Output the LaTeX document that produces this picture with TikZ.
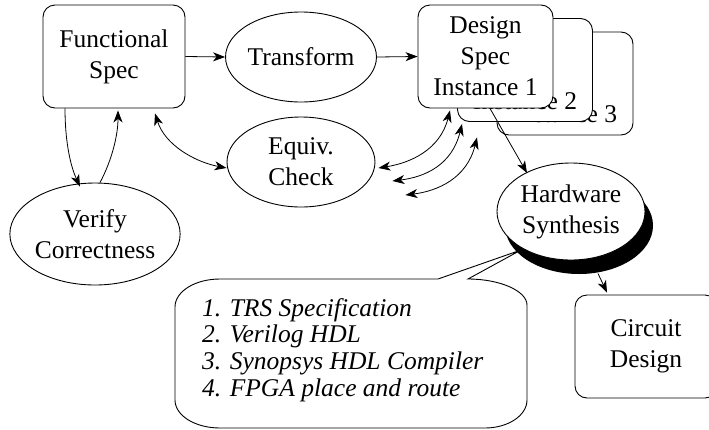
\documentclass[tikz,border=0pt]{standalone}
\usepackage{fontspec}
\setmainfont{Liberation Serif}
\usetikzlibrary{arrows.meta,calc,shapes.geometric}
\begin{document}
\begin{tikzpicture}[x=1pt,y=-1pt,
  every node/.style={font=\fontsize{25.5}{31}\selectfont, align=center, inner sep=0pt},
  box/.style={draw, rounded corners=12pt, fill=white, line width=0.9pt, minimum height=103pt, minimum width=#1},
  ell/.style={draw, ellipse, fill=white, line width=0.9pt},
  arr/.style={line width=0.8pt, -{Stealth[length=12pt,width=9pt,inset=3.5pt]}},
  darr/.style={line width=0.8pt, {Stealth[length=12pt,width=9pt,inset=3.5pt]}-{Stealth[length=12pt,width=9pt,inset=3.5pt]}}
]
\useasboundingbox (0,0) rectangle (709,429);

% nodes
\node[box=142pt] (fs) at (114,56.5) {Functional\\Spec};
\node[ell, minimum width=148pt, minimum height=90pt] (tr) at (301,57) {Transform};
\node[ell, minimum width=148pt, minimum height=90pt] (eq) at (301,162) {Equiv.\\Check};
\node[ell, minimum width=170pt, minimum height=102pt] (vc) at (95,234) {Verify\\Correctness};

\node[box=136pt] (ds3) at (565,83.5) {\vphantom{Design}\\\vphantom{Spec}\\Instance 3};
\node[box=135pt] (ds2) at (525,70) {\vphantom{Design}\\\vphantom{Spec}\\Instance 2};
\node[box=135pt] (ds1) at (485.5,56.5) {Design\\Spec\\Instance 1};

% shadow of hardware synthesis
\fill[black] (579,225.5) ellipse [x radius=74pt, y radius=48.5pt];
\node[ell, minimum width=148pt, minimum height=97pt] (hw) at (571,211.5) {Hardware\\Synthesis};

\node[box=142pt] (cd) at (646,346.5) {Circuit\\Design};

% callout
\coordinate (tip) at ($(hw.center)+(-50,38.5)$);
\draw[line width=0.9pt, fill=white] (438,279) -- (220,279)
  .. controls (195,279) and (175,291.5) .. (175,307) -- (175,400)
  .. controls (175,415.5) and (195,428) .. (220,428) -- (485,428)
  .. controls (508,428) and (527,415.5) .. (527,400) -- (527,305)
  .. controls (527,291) and (500,279) .. (468,279) -- (tip) -- cycle;
\node[anchor=west, align=left, font=\fontsize{25.5}{26.7}\selectfont\itshape] (co) at (202,350)
  {1. TRS Specification\\2. Verilog HDL\\3. Synopsys HDL Compiler\\4. FPGA place and route};

% connectors
\draw[arr] (fs.east) -- (tr.west);
\draw[arr] (tr.east) -- (ds1.west);
\draw[arr] ($(fs.south)+(-49,0)$) .. controls (65,140) and (70,165) .. ($(vc.north)+(-15,4)$);
\draw[arr] ($(vc.north)+(5,0)$) .. controls (112,160) and (118,135) .. ($(fs.south)+(4,2)$);
\draw[darr] ($(fs.south)+(41,5)$) .. controls (165,145) and (195,162) .. ($(eq.west)+(0,6)$);
\draw[darr] ($(ds1.south)+(-35.5,2)$) .. controls (440,150) and (410,163) .. ($(eq.east)+(3,6)$);
\draw[darr] ($(ds2.south)+(-63,2)$) .. controls (452,165) and (425,177) .. ($(eq.east)+(17,19)$);
\draw[darr] ($(ds3.south)+(-88,2)$) .. controls (467,178) and (438,191) .. ($(eq.east)+(30,33)$);
\draw[arr] ($(ds1.south)+(4.5,0)$) -- ($(hw.center)+(-44,-38.5)$);
\draw[arr] ($(hw.center)+(27,62)$) -- ($(cd.north)+(-39,-2)$);
\end{tikzpicture}
\end{document}
